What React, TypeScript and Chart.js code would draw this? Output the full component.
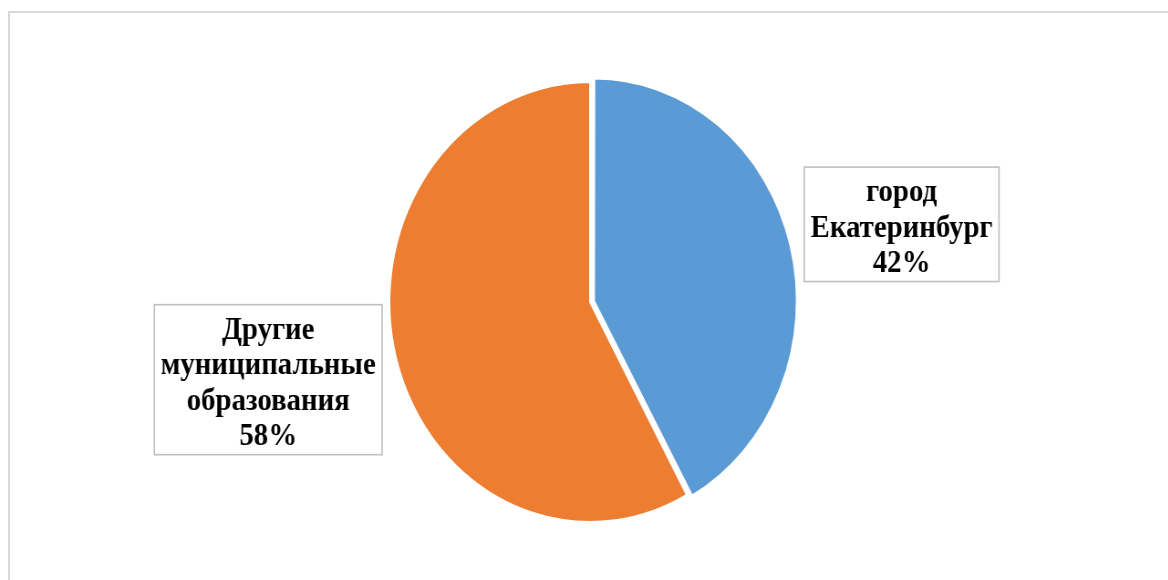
import React, { useEffect, useRef } from "react";
import { Chart, registerables } from "chart.js";

Chart.register(...registerables);

// ---- data ----
const categories = ["город Екатеринбург", "Другие муниципальные образования"];
const labelLines = [
  ["город", "Екатеринбург"],
  ["Другие", "муниципальные", "образования"],
];
const values = [42, 58];
const colors = ["#5B9BD5", "#ED7D31"];
const offsets = [18, 0];

// ---- layout / style ----
const SQUASH = 0.912;
const CANVAS_W = 1270;
const CANVAS_H = 567;
const PIE_RADIUS = 220;
const FONT_SIZE = 31.6;
const LINE_H = 35.5;
const PAD_X = 7;
const PAD_Y = 4;
const GAP = 8;
const LABEL_RADIAL_Y = 1.42;

// Chart.js' actual translation of an exploded arc
function arcShift(off: number, circumference: number) {
  const fix = 1 - Math.sin(Math.min(Math.PI, circumference || 0));
  return (off / 4) * (1 + fix);
}

const labelPlugin = {
  id: "boxLabels",
  afterDatasetsDraw(chart: any) {
    const ctx = chart.ctx as CanvasRenderingContext2D;
    const meta = chart.getDatasetMeta(0);
    const total = values.reduce((a, b) => a + b, 0);
    meta.data.forEach((arc: any, i: number) => {
      const { x, y, startAngle, endAngle, outerRadius, circumference } = arc.getProps(
        ["x", "y", "startAngle", "endAngle", "outerRadius", "circumference"],
        true
      );
      const mid = (startAngle + endAngle) / 2;
      const pct = Math.round((values[i] / total) * 100);
      const lines = [...labelLines[i], `${pct}%`];
      ctx.save();
      ctx.font = `bold ${FONT_SIZE}px "Liberation Serif", "Times New Roman", serif`;
      const textW = Math.max(...lines.map((l) => ctx.measureText(l).width));
      const boxW = textW + 2 * PAD_X;
      const boxH = lines.length * LINE_H + 2 * PAD_Y;
      const shift = arcShift(offsets[i] || 0, circumference);
      const left =
        Math.cos(mid) >= 0
          ? x + outerRadius + GAP + shift
          : x - outerRadius - GAP - shift - boxW;
      const cyBox = y + Math.sin(mid) * outerRadius * LABEL_RADIAL_Y;
      const top = cyBox - boxH / 2;
      ctx.fillStyle = "#ffffff";
      ctx.fillRect(left, top, boxW, boxH);
      ctx.strokeStyle = "#bfbfbf";
      ctx.lineWidth = 1.6;
      ctx.strokeRect(left, top, boxW, boxH);
      ctx.fillStyle = "#000000";
      ctx.textAlign = "center";
      ctx.textBaseline = "alphabetic";
      lines.forEach((l, k) => {
        ctx.fillText(l, left + boxW / 2, top + PAD_Y + k * LINE_H + LINE_H * 0.85);
      });
      ctx.restore();
    });
  },
};

export default function App() {
  const canvasRef = useRef<HTMLCanvasElement | null>(null);

  useEffect(() => {
    if (!canvasRef.current) return;
    const chart = new Chart(canvasRef.current, {
      type: "pie",
      data: {
        labels: categories,
        datasets: [
          {
            data: values,
            backgroundColor: colors,
            borderColor: "#ffffff",
            borderWidth: 2,
            offset: offsets,
            hoverOffset: 0,
            radius: PIE_RADIUS,
          } as any,
        ],
      },
      options: {
        responsive: false,
        animation: false,
        devicePixelRatio: 1,
        layout: { padding: { left: 2, right: 0, top: 11, bottom: 0 } },
        plugins: {
          legend: { display: false },
          tooltip: { enabled: false },
          title: { display: false },
        },
      },
      plugins: [labelPlugin],
    });
    return () => chart.destroy();
  }, []);

  return (
    <div
      style={{
        position: "fixed",
        left: 8,
        top: 11,
        width: 1160,
        height: 569,
        boxSizing: "border-box",
        borderLeft: "2px solid #d9d9d9",
        borderTop: "2px solid #d9d9d9",
        overflow: "hidden",
        background: "#ffffff",
      }}
    >
      <div
        style={{
          width: CANVAS_W,
          height: CANVAS_H,
          transform: `scaleX(${SQUASH})`,
          transformOrigin: "0 0",
        }}
      >
        <canvas
          ref={canvasRef}
          width={CANVAS_W}
          height={CANVAS_H}
          style={{ display: "block" }}
        />
      </div>
    </div>
  );
}
